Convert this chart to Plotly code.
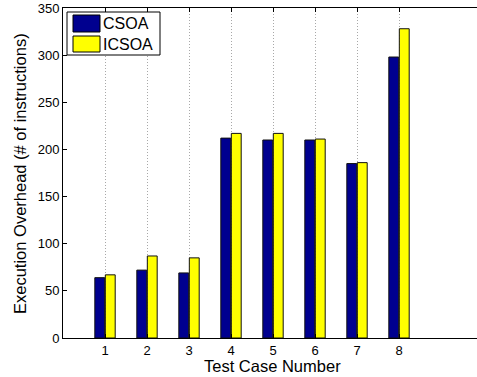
import plotly.graph_objects as go

cases = [1, 2, 3, 4, 5, 6, 7, 8]
csoa = [64, 72, 69, 212, 210, 210, 185, 298]
icsoa = [67, 87, 85, 217, 217, 211, 186, 328]
series_names = ["CSOA", "ICSOA"]
y_ticks = [0, 50, 100, 150, 200, 250, 300, 350]
x_title = "Test Case Number"
y_title = "Execution Overhead (# of instructions)"

W, H = 477, 377
L, R, T, B = 63, 0, 8, 39
pw, ph = W - L - R, H - T - B

def px(x):
    return (x - L) / pw

def py(y):
    return (H - B - y) / ph

FONT = "Liberation Sans, Arial, Helvetica, sans-serif"
BLUE = "#00008F"
YELLOW = "#FFFF00"

fig = go.Figure()
fig.add_trace(go.Bar(x=cases, y=csoa, name=series_names[0], marker=dict(color=BLUE, line=dict(color="#111", width=1)), showlegend=False))
fig.add_trace(go.Bar(x=cases, y=icsoa, name=series_names[1], marker=dict(color=YELLOW, line=dict(color="#111", width=1)), showlegend=False))

# legend drawn manually (MATLAB style)
shapes = [
    dict(type="rect", xref="paper", yref="paper", x0=px(67), x1=px(160), y0=py(12), y1=py(55),
         line=dict(color="black", width=1), fillcolor="white", layer="above"),
    dict(type="rect", xref="paper", yref="paper", x0=px(73), x1=px(100), y0=py(15), y1=py(32),
         line=dict(color="black", width=1), fillcolor=BLUE, layer="above"),
    dict(type="rect", xref="paper", yref="paper", x0=px(73), x1=px(100), y0=py(36), y1=py(52),
         line=dict(color="black", width=1), fillcolor=YELLOW, layer="above"),
]
annotations = [
    dict(text=series_names[0], xref="paper", yref="paper", x=px(101), y=py(24), xanchor="left", yanchor="middle",
         showarrow=False, font=dict(family=FONT, size=16, color="black")),
    dict(text=series_names[1], xref="paper", yref="paper", x=px(101), y=py(44), xanchor="left", yanchor="middle",
         showarrow=False, font=dict(family=FONT, size=16, color="black")),
    dict(text=x_title, xref="paper", yref="paper", x=px(272), y=py(366), xanchor="center", yanchor="middle",
         showarrow=False, font=dict(family=FONT, size=16.5, color="black")),
    dict(text=y_title, xref="paper", yref="paper", x=px(20), y=py(174), xanchor="center", yanchor="middle",
         textangle=-90, showarrow=False, font=dict(family=FONT, size=16.5, color="black")),
]

fig.update_layout(
    width=W, height=H,
    margin=dict(l=L, r=R, t=T, b=B, pad=0),
    paper_bgcolor="white", plot_bgcolor="white",
    barmode="group", bargap=0.5, bargroupgap=0.06,
    font=dict(family=FONT, size=13, color="black"),
    shapes=shapes, annotations=annotations,
    xaxis=dict(
        range=[0, pw / 42.0], tickvals=cases, ticktext=[str(c) for c in cases],
        ticks="inside", ticklen=4, tickcolor="black", mirror="ticks",
        showline=True, linecolor="black", linewidth=1,
        showgrid=True, gridcolor="#a8a8a8", griddash="1px,2px", gridwidth=1,
        zeroline=False,
        tickfont=dict(size=13),
    ),
    yaxis=dict(
        range=[0, 350], tickvals=y_ticks,
        ticks="inside", ticklen=4, tickcolor="black",
        showline=True, linecolor="black", linewidth=1,
        showgrid=False, zeroline=False,
        tickfont=dict(size=13),
    ),
)

fig.write_html("out.html", config={"displayModeBar": False},
               post_script="document.body.style.margin='0';document.body.style.overflow='hidden';")
